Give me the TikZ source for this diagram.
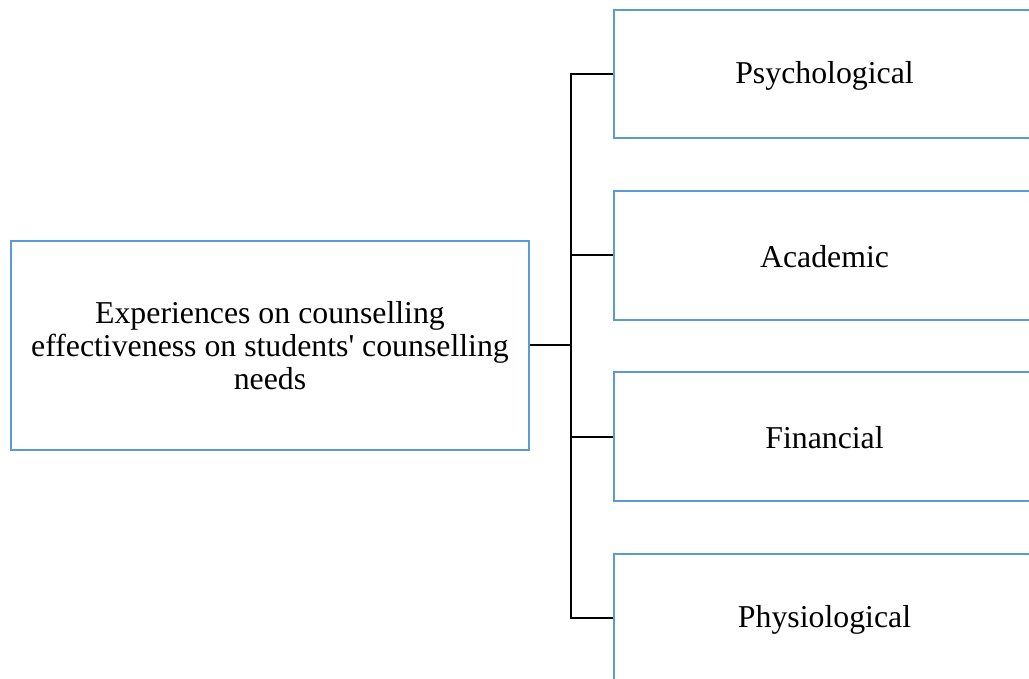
\documentclass[tikz,border=0pt]{standalone}
\usepackage{fontspec}
\setmainfont{Liberation Serif}
\definecolor{boxblue}{RGB}{91,155,213}
\begin{document}
\begin{tikzpicture}[x=1pt,y=-1pt,
  every node/.style={font=\fontsize{31.8}{32.8}\selectfont},
  topicbox/.style={draw=boxblue,line width=2pt,fill=white,inner sep=0pt,align=center},
  label/.style={inner sep=0pt,anchor=center},
  link/.style={draw=black,line width=2pt}]
\useasboundingbox[fill=white] (0,0) rectangle (1029,679);
\clip (0,0) rectangle (1029,679);
% central theme
\node[topicbox,minimum width=518,minimum height=209] (main) at (270,345.5)
  {Experiences on counselling\\effectiveness on students\textquotesingle{} counselling\\needs};
% sub-themes, running off the right edge
\node[topicbox,minimum width=421,minimum height=128,anchor=west] (psy) at (613,74) {};
\node[topicbox,minimum width=421,minimum height=129,anchor=west] (aca) at (613,255.5) {};
\node[topicbox,minimum width=421,minimum height=129,anchor=west] (fin) at (613,436.5) {};
\node[topicbox,minimum width=421,minimum height=128,anchor=west] (phy) at (613,618) {};
\node[label] (psyt) at ([yshift=-2]psy.center) {Psychological};
\node[label] (acat) at ([yshift=-1]aca.center) {Academic};
\node[label] (fint) at ([yshift=-1]fin.center) {Financial};
\node[label] (phyt) at ([yshift=-2]phy.center) {Physiological};
% tree connector
\coordinate (spine) at (571,345.5);
\draw[link] (main.east) -- (spine);
\draw[link] (psy.west) -| (spine) |- (phy.west);
\draw[link] (spine |- aca.west) -- (aca.west);
\draw[link] (spine |- fin.west) -- (fin.west);
\end{tikzpicture}
\end{document}
